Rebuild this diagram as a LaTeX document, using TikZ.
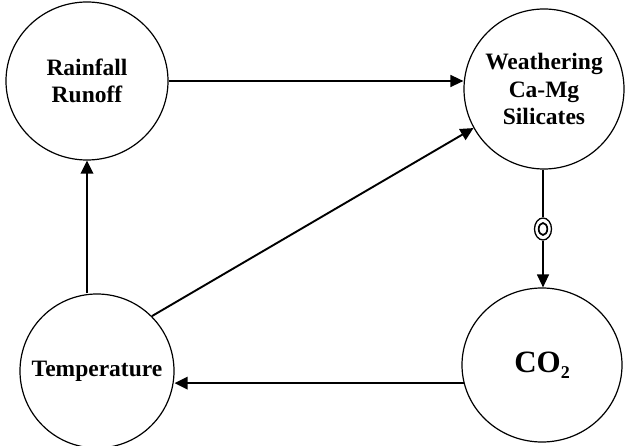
\documentclass[tikz,border=0pt]{standalone}
\usepackage{fontspec}
\setmainfont{Liberation Serif}
\usetikzlibrary{shapes.geometric,arrows.meta}
\begin{document}
\begin{tikzpicture}[x=1pt,y=-1pt,
  bubble/.style={ellipse,draw,line width=1.2pt,inner sep=-20pt,align=center,
    font=\bfseries\fontsize{23.5}{27.5}\selectfont},
  link/.style={line width=1.9pt,-{Triangle[length=13pt,width=12.5pt]}},
  thinlink/.style={line width=1.3pt,-{Triangle[length=13pt,width=12pt]}},
  ringmark/.style={ellipse,draw,fill=white,line width=1.3pt,inner sep=0pt,
    minimum width=17pt,minimum height=22pt},
]
\useasboundingbox (0,0) rectangle (626,446);
\clip (0,0) rectangle (626,446);
\node[bubble,minimum width=162pt,minimum height=158pt] (rain) at (87,81) {Rainfall\\Runoff};
\node[bubble,minimum width=160pt,minimum height=160pt] (weath) at (544,89) {Weathering\\Ca-Mg\\Silicates};
\node[bubble,minimum width=154pt,minimum height=154pt] (temp) at (97,371) {Temperature};
\node[bubble,minimum width=160pt,minimum height=154pt,font=\bfseries\fontsize{31}{31}\selectfont] (co2) at (542,365) {CO\raisebox{-6pt}{\fontsize{18}{18}\selectfont 2}};
% connectors
\draw[thinlink] (rain.east) -- (rain.east -| weath.west);
\draw[link] (rain.south |- temp.north) -- (rain.south);
\draw[link] (temp.45) -- (weath.209);
\node[ringmark] (sym) at (543,229) {};
\draw[line width=1.7pt] (sym.center) ellipse [x radius=4.3pt, y radius=6pt];
\draw[line width=1.3pt] (weath.south -| sym.north) -- (sym.north);
\draw[thinlink] (sym.south) -- (sym.south |- co2.north);
\draw[link] (co2.193) -- (co2.193 -| temp.east);
\end{tikzpicture}
\end{document}
